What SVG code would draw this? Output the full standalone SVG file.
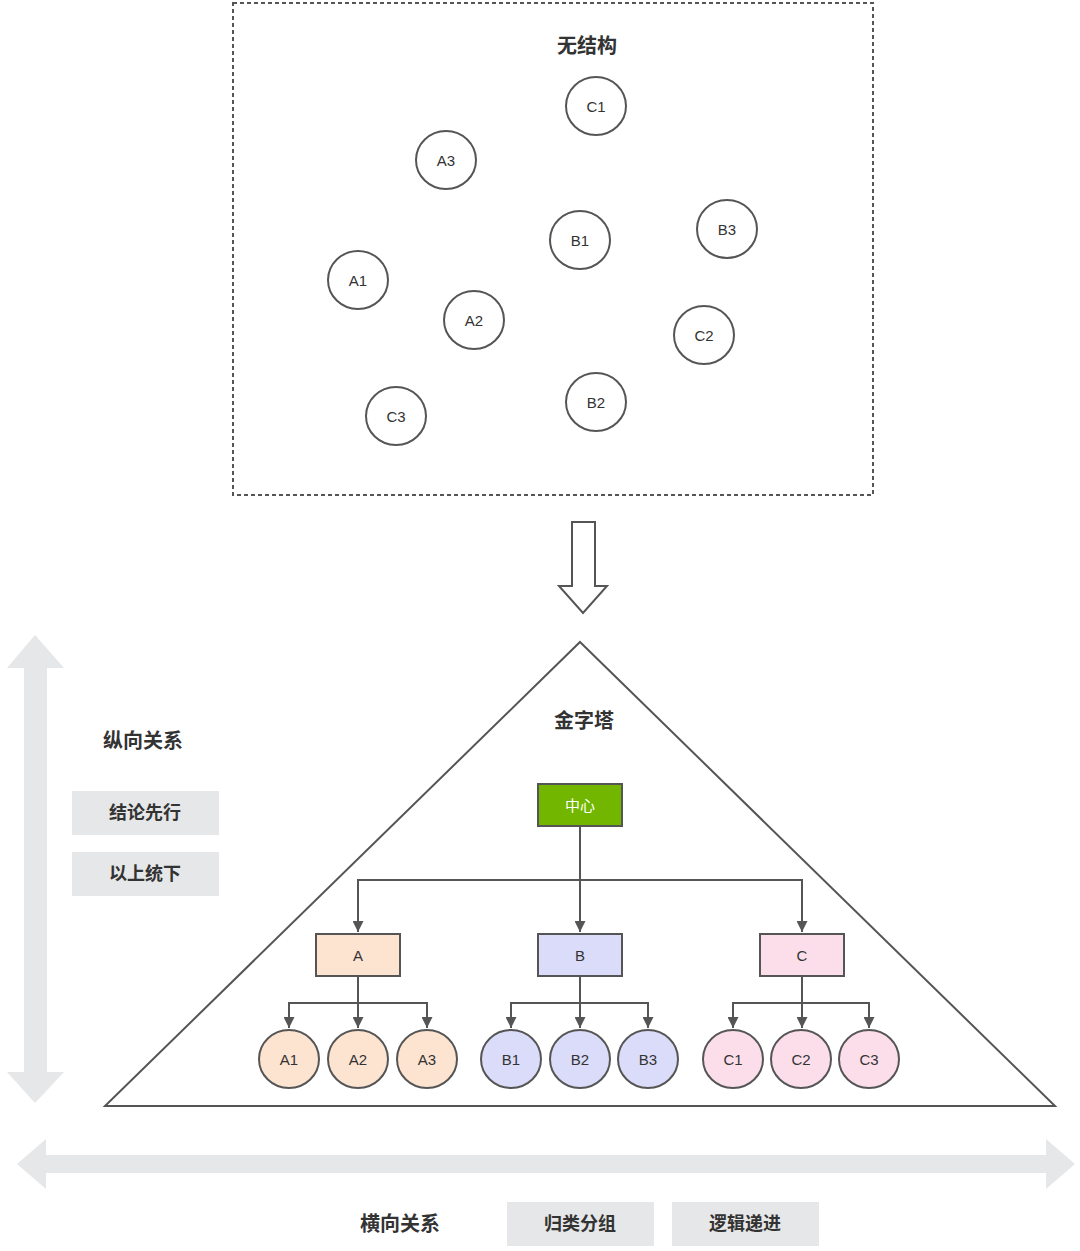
<svg xmlns="http://www.w3.org/2000/svg" width="1080" height="1251" viewBox="0 0 1080 1251">
<style>
text{font-family:"Liberation Sans","Noto Sans CJK SC",sans-serif;fill:#333;text-anchor:middle;dominant-baseline:central}
.t{font-size:20px;font-weight:bold}
.l{font-size:15px}
.c{fill:#fff;stroke:#555;stroke-width:2}
.n{stroke:#555;stroke-width:2}
.e{stroke:#555;stroke-width:2;fill:none}
.g{fill:#e6e7e8}
.lb{font-size:18px;font-weight:bold}
.lt{font-size:20px;font-weight:bold}
</style>
<defs>
<marker id="ah" viewBox="0 0 10 10" refX="10" refY="5" markerWidth="5.5" markerHeight="5.5" orient="auto" markerUnits="strokeWidth">
<path d="M0,0 L10,5 L0,10 Z" fill="#555"/>
</marker>
</defs>
<rect x="0" y="0" width="1080" height="1251" fill="#fff"/>

<g id="unstructured">
<rect x="233" y="3" width="640" height="492" fill="none" stroke="#555" stroke-width="2" stroke-dasharray="4 3"/>
<text class="t" x="587" y="46">无结构</text>
<g id="u-C1"><ellipse class="c" cx="596" cy="106" rx="30" ry="29"/><text class="l" x="596" y="106">C1</text></g>
<g id="u-A3"><ellipse class="c" cx="446" cy="160" rx="30" ry="29"/><text class="l" x="446" y="160">A3</text></g>
<g id="u-B1"><ellipse class="c" cx="580" cy="240" rx="30" ry="29"/><text class="l" x="580" y="240">B1</text></g>
<g id="u-B3"><ellipse class="c" cx="727" cy="229" rx="30" ry="29"/><text class="l" x="727" y="229">B3</text></g>
<g id="u-A1"><ellipse class="c" cx="358" cy="280" rx="30" ry="29"/><text class="l" x="358" y="280">A1</text></g>
<g id="u-A2"><ellipse class="c" cx="474" cy="320" rx="30" ry="29"/><text class="l" x="474" y="320">A2</text></g>
<g id="u-C2"><ellipse class="c" cx="704" cy="335" rx="30" ry="29"/><text class="l" x="704" y="335">C2</text></g>
<g id="u-C3"><ellipse class="c" cx="396" cy="416" rx="30" ry="29"/><text class="l" x="396" y="416">C3</text></g>
<g id="u-B2"><ellipse class="c" cx="596" cy="402" rx="30" ry="29"/><text class="l" x="596" y="402">B2</text></g>
</g>

<g id="down-arrow">
<path d="M572,522 L595,522 L595,586 L607,586 L583,613 L559,586 L572,586 Z" fill="#fff" stroke="#555" stroke-width="2" stroke-linejoin="miter"/>
</g>

<g id="vertical-axis">
<path class="g" d="M35,635 L64,668 L47,668 L47,1072 L64,1072 L35,1103 L7,1072 L24,1072 L24,668 L7,668 Z"/>
<text class="lt" x="143" y="741">纵向关系</text>
<rect class="g" x="72" y="791" width="147" height="44"/>
<text class="lb" x="145" y="813">结论先行</text>
<rect class="g" x="72" y="852" width="147" height="44"/>
<text class="lb" x="145" y="874">以上统下</text>
</g>

<g id="horizontal-axis">
<path class="g" d="M17,1164 L46,1139 L46,1155 L1046,1155 L1046,1139 L1075,1164 L1046,1189 L1046,1173 L46,1173 L46,1189 Z"/>
<text class="lt" x="400" y="1224">横向关系</text>
<rect class="g" x="507" y="1202" width="147" height="44"/>
<text class="lb" x="580" y="1224">归类分组</text>
<rect class="g" x="672" y="1202" width="147" height="44"/>
<text class="lb" x="745" y="1224">逻辑递进</text>
</g>

<g id="pyramid">
<path d="M580,642 L1055,1106 L105,1106 Z" fill="#fff" stroke="#555" stroke-width="2"/>
<text class="t" x="584" y="721">金字塔</text>
</g>

<g id="connectors">
<path class="e" d="M580,826 L580,932" marker-end="url(#ah)"/>
<path class="e" d="M580,880 L358,880 L358,932" marker-end="url(#ah)"/>
<path class="e" d="M580,880 L802,880 L802,932" marker-end="url(#ah)"/>
<path class="e" d="M358,976 L358,1028" marker-end="url(#ah)"/>
<path class="e" d="M358,1003 L289,1003 L289,1028" marker-end="url(#ah)"/>
<path class="e" d="M358,1003 L427,1003 L427,1028" marker-end="url(#ah)"/>
<path class="e" d="M580,976 L580,1028" marker-end="url(#ah)"/>
<path class="e" d="M580,1003 L511,1003 L511,1028" marker-end="url(#ah)"/>
<path class="e" d="M580,1003 L648,1003 L648,1028" marker-end="url(#ah)"/>
<path class="e" d="M802,976 L802,1028" marker-end="url(#ah)"/>
<path class="e" d="M802,1003 L733,1003 L733,1028" marker-end="url(#ah)"/>
<path class="e" d="M802,1003 L869,1003 L869,1028" marker-end="url(#ah)"/>
</g>

<g id="center"><rect class="n" x="538" y="784" width="84" height="42" fill="#72b600"/><text class="l" x="580" y="805" style="fill:#fff">中心</text></g>
<g id="A"><rect class="n" x="316" y="934" width="84" height="42" fill="#fde4d1"/><text class="l" x="358" y="955">A</text></g>
<g id="B"><rect class="n" x="538" y="934" width="84" height="42" fill="#dadcf9"/><text class="l" x="580" y="955">B</text></g>
<g id="C"><rect class="n" x="760" y="934" width="84" height="42" fill="#fcdeeb"/><text class="l" x="802" y="955">C</text></g>

<g id="A1"><ellipse class="n" cx="289" cy="1059" rx="30" ry="29" fill="#fde4d1"/><text class="l" x="289" y="1059">A1</text></g>
<g id="A2"><ellipse class="n" cx="358" cy="1059" rx="30" ry="29" fill="#fde4d1"/><text class="l" x="358" y="1059">A2</text></g>
<g id="A3"><ellipse class="n" cx="427" cy="1059" rx="30" ry="29" fill="#fde4d1"/><text class="l" x="427" y="1059">A3</text></g>
<g id="B1"><ellipse class="n" cx="511" cy="1059" rx="30" ry="29" fill="#dadcf9"/><text class="l" x="511" y="1059">B1</text></g>
<g id="B2"><ellipse class="n" cx="580" cy="1059" rx="30" ry="29" fill="#dadcf9"/><text class="l" x="580" y="1059">B2</text></g>
<g id="B3"><ellipse class="n" cx="648" cy="1059" rx="30" ry="29" fill="#dadcf9"/><text class="l" x="648" y="1059">B3</text></g>
<g id="C1"><ellipse class="n" cx="733" cy="1059" rx="30" ry="29" fill="#fcdeeb"/><text class="l" x="733" y="1059">C1</text></g>
<g id="C2"><ellipse class="n" cx="801" cy="1059" rx="30" ry="29" fill="#fcdeeb"/><text class="l" x="801" y="1059">C2</text></g>
<g id="C3"><ellipse class="n" cx="869" cy="1059" rx="30" ry="29" fill="#fcdeeb"/><text class="l" x="869" y="1059">C3</text></g>
</svg>
